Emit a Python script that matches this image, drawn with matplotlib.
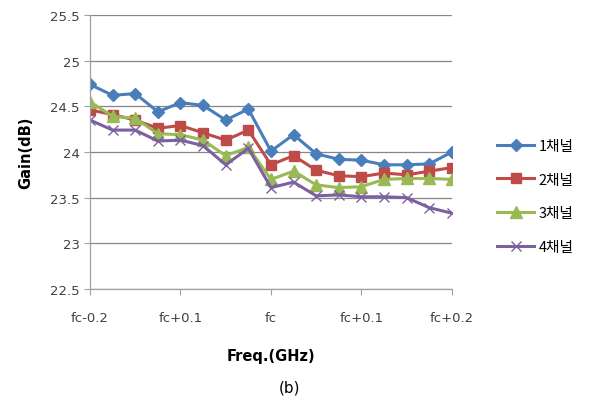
import matplotlib
matplotlib.use('Agg')
import matplotlib.pyplot as plt
import numpy as np

plt.rcParams['font.family'] = ['Noto Sans CJK KR', 'DejaVu Sans']

# 17 measurement points from fc-0.2 to fc+0.2
tick_labels = ['fc-0.2', 'fc+0.1', 'fc', 'fc+0.1', 'fc+0.2']
series_names = ['1채널', '2채널', '3채널', '4채널']

ch1 = [24.74, 24.62, 24.64, 24.44, 24.54, 24.51, 24.35, 24.47, 24.01,
       24.19, 23.98, 23.92, 23.91, 23.86, 23.86, 23.87, 24.00]
ch2 = [24.46, 24.41, 24.35, 24.26, 24.29, 24.21, 24.13, 24.24, 23.86,
       23.96, 23.80, 23.74, 23.73, 23.77, 23.75, 23.79, 23.83]
ch3 = [24.55, 24.39, 24.37, 24.20, 24.19, 24.13, 23.96, 24.05, 23.70,
       23.79, 23.64, 23.61, 23.62, 23.70, 23.71, 23.71, 23.70]
ch4 = [24.35, 24.24, 24.24, 24.12, 24.13, 24.07, 23.86, 24.04, 23.61,
       23.67, 23.52, 23.53, 23.51, 23.51, 23.50, 23.39, 23.33]

y_ticks = [22.5, 23, 23.5, 24, 24.5, 25, 25.5]

x = np.arange(len(ch1))

fig = plt.figure(figsize=(5.9, 4.06), dpi=100)
ax = fig.add_axes([0.1525, 0.2857, 0.6135, 0.6749])

styles = [
    dict(color='#4A7EBB', marker='D', markersize=6.5),
    dict(color='#BE4B48', marker='s', markersize=7),
    dict(color='#98B954', marker='^', markersize=8),
    dict(color='#7D60A0', marker='x', markersize=7, markeredgewidth=1.0),
]
for vals, name, st in zip([ch1, ch2, ch3, ch4], series_names, styles):
    ax.plot(x, vals, linewidth=2.2, label=name, **st)

ax.set_xlim(0, 16)
ax.set_ylim(22.5, 25.5)
ax.set_yticks(y_ticks)
ax.set_yticklabels([f'{v:g}' for v in y_ticks], family='DejaVu Sans')
ax.set_xticks([0, 4, 8, 12, 16])
ax.set_xticklabels(tick_labels, family='DejaVu Sans')
ax.tick_params(axis='both', labelsize=9.5, colors='#404040', length=4, width=0.8)
ax.tick_params(axis='x', pad=12)
ax.tick_params(axis='both', color='#A0A0A0')
ax.yaxis.grid(True, color='#878787', linewidth=0.9)
ax.set_axisbelow(True)
for s in ['top', 'right']:
    ax.spines[s].set_visible(False)
for s in ['left', 'bottom']:
    ax.spines[s].set_color('#A0A0A0')
    ax.spines[s].set_linewidth(0.9)

ax.set_ylabel('Gain(dB)', fontsize=10.5, fontweight='bold', family='DejaVu Sans', labelpad=12)
ax.set_xlabel('Freq.(GHz)', fontsize=10.5, fontweight='bold', family='DejaVu Sans', labelpad=17)

leg = ax.legend(loc='center left', bbox_to_anchor=(1.087, 0.338), frameon=False,
                fontsize=10.5, handlelength=2.6, labelspacing=1.35, handletextpad=0.3)

fig.text(0.491, 0.045, '(b)', ha='center', va='center', fontsize=11, family='DejaVu Sans')

fig.savefig('out.png', dpi=100)
